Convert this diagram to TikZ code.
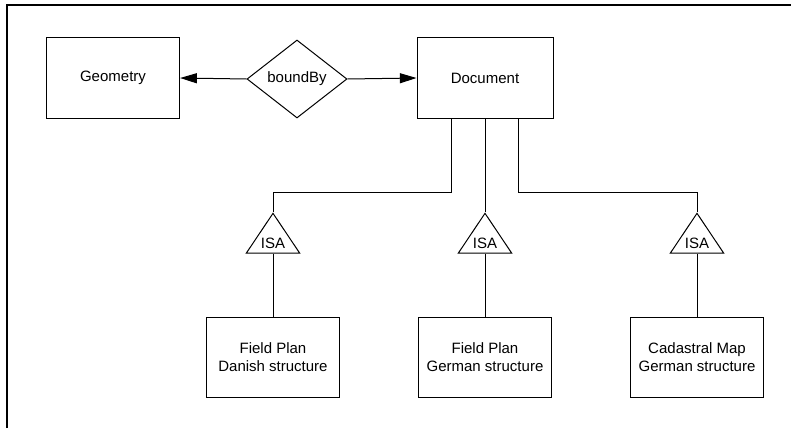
\documentclass[tikz,border=0pt]{standalone}
\usepackage{fontspec}
\setmainfont{Liberation Sans}
\usetikzlibrary{shapes.geometric,arrows.meta}

\tikzset{
  entity/.style={draw, line width=0.75pt, minimum width=100pt, minimum height=60pt,
    align=center, font=\fontsize{11.25}{13.5}\selectfont},
  relation/.style={draw, diamond, line width=0.75pt, inner sep=0pt, minimum width=75pt,
    minimum height=58.5pt, font=\fontsize{11.25}{13.5}\selectfont},
  isa/.style={draw, isosceles triangle, shape border rotate=90, isosceles triangle stretches,
    line width=0.75pt, inner sep=0pt, minimum width=40pt, minimum height=29pt,
    font=\fontsize{11.25}{13.5}\selectfont},
  link/.style={line width=0.75pt},
  arrowlink/.style={link, -{Triangle[length=12.5pt,width=7.5pt]}}
}

\begin{document}
\begin{tikzpicture}[x=0.75pt, y=-0.75pt]
    \useasboundingbox (0,0) rectangle (791,428);

    % Frame
    \draw[line width=1.2pt] (7,428) -- (7,5) -- (791,5);

    % Top row
    \node[entity] (geometry) at (113,78) {Geometry};
    \node[relation] (bound) at (297,79) {boundBy};
    \node[entity, minimum width=102pt] (doc) at (485,78) {Document};

    \draw[arrowlink] (bound.west) -- (geometry.east);
    \draw[arrowlink] (bound.east) -- (doc.west);

    % ISA triangles
    \node[isa, anchor=apex] (isa1) at (273,212) {ISA};
    \node[isa, anchor=apex] (isa2) at (485,212) {ISA};
    \node[isa, anchor=apex] (isa3) at (697,212) {ISA};

    % Sub entities
    \node[entity] (danish) at (273,357.5) {Field Plan\\Danish structure};
    \node[entity] (german) at (485,357.5) {Field Plan\\German structure};
    \node[entity] (cadastral) at (697,357.5) {Cadastral Map\\German structure};

    % Links from Document down to the ISA triangles
    \coordinate (j1) at (273,192);
    \coordinate (j3) at (697,192);
    \draw[link] ([xshift=-25pt]doc.south) |- (j1) -- (isa1.apex);
    \draw[link] (doc.south) -- (isa2.apex);
    \draw[link] ([xshift=25pt]doc.south) |- (j3) -- (isa3.apex);

    % ISA to sub entities
    \draw[link] (isa1.south) -- (danish.north);
    \draw[link] (isa2.south) -- (german.north);
    \draw[link] (isa3.south) -- (cadastral.north);
\end{tikzpicture}
\end{document}
